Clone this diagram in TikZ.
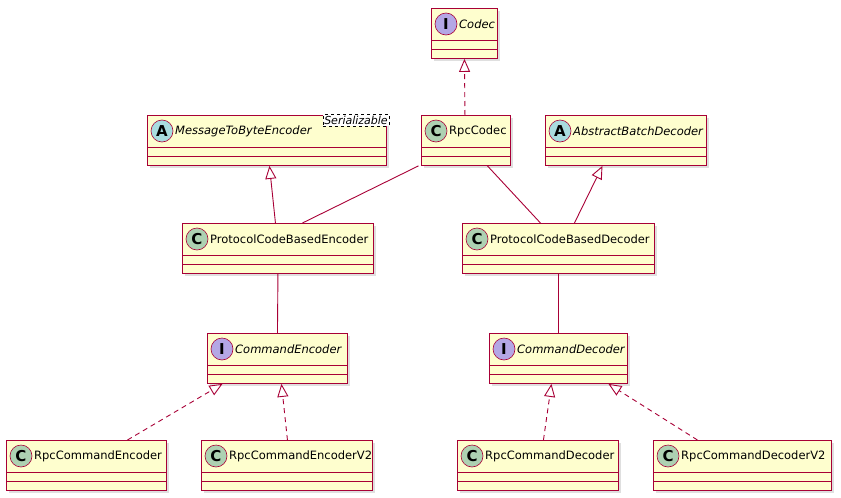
\documentclass[tikz,border=0pt]{standalone}
\usepackage{fontspec}
\setmainfont{DejaVu Sans}
\usetikzlibrary{arrows.meta,shadows}
\definecolor{umlfill}{HTML}{FEFECE}
\definecolor{umlline}{HTML}{A80036}
\definecolor{circC}{HTML}{ADD1B2}
\definecolor{circA}{HTML}{A9DCDF}
\definecolor{circI}{HTML}{B4A7E5}
\tikzset{
  cls/.style={draw=umlline, fill=umlfill, line width=0.9pt, minimum height=50pt, inner sep=0pt,
    drop shadow={opacity=0.25, shadow xshift=3pt, shadow yshift=-3pt}},
  sep/.style={draw=umlline, line width=0.9pt},
  circ/.style={circle, draw=umlline, line width=0.6pt, minimum size=22pt, inner sep=0pt,
    font=\fontsize{15}{15}\selectfont\bfseries},
  lbl/.style={anchor=west, inner sep=0pt, font=\fontsize{11.5}{13}\selectfont},
  ilbl/.style={lbl, font=\fontsize{11.5}{13}\selectfont\itshape},
  assoc/.style={draw=umlline, line width=0.9pt},
  inherit/.style={draw=umlline, line width=0.9pt, -{Triangle[open, length=13pt, width=11pt, fill=white]}},
  realize/.style={inherit, dash pattern=on 5pt off 4pt},
}
\newcommand\umlbox[8]{%
  \node[cls, minimum width={#4-#2}, anchor=north west] (#1) at (#2,#3) {};
  \draw[sep] ([yshift=-32pt]#1.north west) -- ([yshift=-32pt]#1.north east);
  \draw[sep] ([yshift=-41pt]#1.north west) -- ([yshift=-41pt]#1.north east);
  \node[circ, fill=#6] (#1-c) at ([xshift=15pt,yshift=-16pt]#1.north west) {#5};
  \node[#8] (#1-t) at ([xshift=28pt,yshift=-16pt]#1.north west) {#7};
}
\begin{document}
\begin{tikzpicture}[x=1pt,y=-1pt]
\useasboundingbox (0,0) rectangle (841,498);
\umlbox{codec}{431}{8}{497}{I}{circI}{Codec}{ilbl}
\umlbox{mtbe}{147}{115}{386}{A}{circA}{MessageToByteEncoder}{ilbl}
\node[draw=black, dashed, line width=0.5pt, fill=white, inner xsep=1pt, inner ysep=1.5pt, anchor=north east,
  font=\fontsize{11}{12}\selectfont\itshape] (ser) at (389,114) {Serializable};
\umlbox{rpc}{421}{115}{510}{C}{circC}{RpcCodec}{lbl}
\umlbox{abd}{545}{115}{706}{A}{circA}{AbstractBatchDecoder}{ilbl}
\umlbox{pe}{182}{223}{373}{C}{circC}{ProtocolCodeBasedEncoder}{lbl}
\umlbox{pd}{462}{223}{654}{C}{circC}{ProtocolCodeBasedDecoder}{lbl}
\umlbox{ce}{207}{333}{347}{I}{circI}{CommandEncoder}{ilbl}
\umlbox{cd}{489}{333}{627}{I}{circI}{CommandDecoder}{ilbl}
\umlbox{rce}{6}{440}{166}{C}{circC}{RpcCommandEncoder}{lbl}
\umlbox{rce2}{201}{440}{372}{C}{circC}{RpcCommandEncoderV2}{lbl}
\umlbox{rcd}{457}{440}{618}{C}{circC}{RpcCommandDecoder}{lbl}
\umlbox{rcd2}{653}{440}{831}{C}{circC}{RpcCommandDecoderV2}{lbl}
% connectors
\draw[realize] ([xshift=-1pt]rpc.north) -- ([xshift=0pt]codec.south);
\draw[inherit] ([xshift=-2.5pt]pe.north) -- ([xshift=2.5pt]mtbe.south);
\draw[assoc] ([xshift=-47.5pt]rpc.south) -- ([xshift=24.5pt]pe.north);
\draw[assoc] ([xshift=21.5pt]rpc.south) -- ([xshift=-18pt]pd.north);
\draw[inherit] ([xshift=16pt]pd.north) -- ([xshift=-23.5pt]abd.south);
\draw[assoc] (pe.south) -- (ce.north);
\draw[assoc] (pd.south) -- (cd.north);
\draw[realize] ([xshift=41pt]rce.north) -- ([xshift=-55pt]ce.south);
\draw[realize] ([xshift=0.5pt]rce2.north) -- ([xshift=4pt]ce.south);
\draw[realize] ([xshift=5.5pt]rcd.north) -- ([xshift=-7pt]cd.south);
\draw[realize] ([xshift=-45pt]rcd2.north) -- ([xshift=50pt]cd.south);
\end{tikzpicture}
\end{document}
